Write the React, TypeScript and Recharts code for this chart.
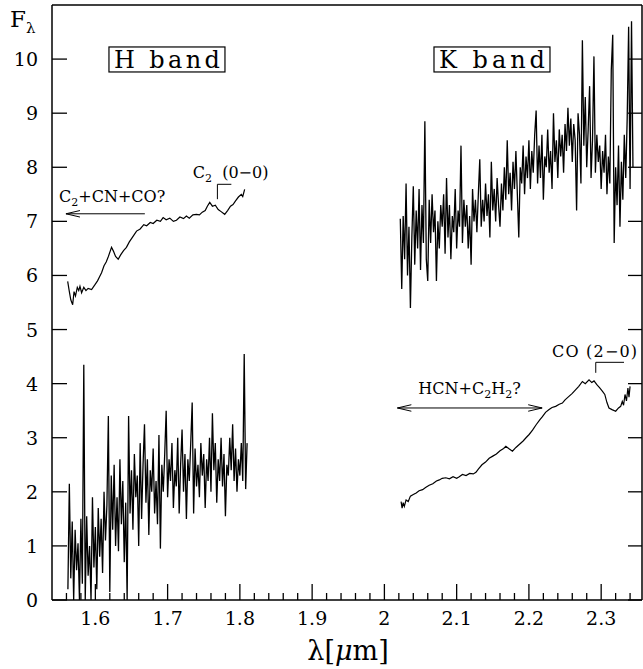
import React from 'react';
import { LineChart, Line, XAxis, YAxis, ReferenceLine, ReferenceDot } from 'recharts';

const FONT = '"DejaVu Serif", "Liberation Serif", serif';

// ---- axes ----
const X_DOMAIN: [number, number] = [1.54, 2.3565];
const Y_DOMAIN: [number, number] = [0, 11];
const X_ALL_TICKS = [
  1.56, 1.58, 1.6, 1.62, 1.64, 1.66, 1.68, 1.7, 1.72, 1.74, 1.76, 1.78, 1.8, 1.82, 1.84, 1.86, 1.88, 1.9, 1.92, 1.94,
  1.96, 1.98, 2.0, 2.02, 2.04, 2.06, 2.08, 2.1, 2.12, 2.14, 2.16, 2.18, 2.2, 2.22, 2.24, 2.26, 2.28, 2.3, 2.32, 2.34,
];
const X_MAJOR_TICKS = [1.6, 1.7, 1.8, 1.9, 2.0, 2.1, 2.2, 2.3];
const X_TICK_LABELS = ['1.6', '1.7', '1.8', '1.9', '2', '2.1', '2.2', '2.3'];
const Y_TICKS = [0, 1, 2, 3, 4, 5, 6, 7, 8, 9, 10];
const Y_TICK_LABELS = ['0', '1', '2', '3', '4', '5', '6', '7', '8', '9', '10'];

// ---- H band, lower (noisy) spectrum: sampled every 0.002 micron from 1.562 ----
const H_NOISY_START = 1.562;
const H_NOISY_STEP = 0.002;
const hNoisyFlux = [
  0.2, 2.15, 0.4, 1.45, 0.0, 1.3, 0.55, 1.05, 0.0, 1.5,
  0.3, 4.35, 0.0, 1.55, 0.45, 1.0, 0.0, 1.9, 0.6, 1.35,
  0.2, 1.7, 0.8, 1.5, 0.5, 2.0, 1.1, 1.75, 3.4, 0.15,
  2.3, 1.3, 2.5, 1.0, 1.9, 0.9, 2.6, 1.4, 2.2, 0.7,
  1.8, 0.0, 3.4, 1.6, 2.4, 1.3, 2.7, 1.9, 2.3, 1.0,
  2.9, 1.5, 2.5, 3.25, 1.8, 2.6, 1.2, 2.4, 2.0, 2.8,
  1.6, 2.2, 1.4, 3.05, 0.95, 2.5, 2.0, 2.7, 3.5, 1.9,
  2.6, 2.2, 2.9, 1.7, 2.4, 2.1, 3.0, 1.6, 2.5, 3.15,
  2.0, 2.7, 1.5, 2.6, 2.2, 2.9, 3.65, 1.6, 2.8, 2.1,
  2.5, 1.9, 2.9, 2.3, 2.7, 1.7, 2.6, 2.2, 3.0, 2.0,
  3.45, 2.4, 2.9, 1.8, 2.6, 2.2, 3.0, 2.1, 2.7, 1.55,
  2.5, 2.3, 3.0, 2.4, 3.25, 2.2, 2.8, 2.0, 2.6, 2.3,
  2.9, 2.2, 4.55, 2.05, 2.9,
];

// ---- H band, upper (smooth) spectrum ----
const hSmoothWave = [
  1.5617, 1.564, 1.566, 1.5686, 1.5705, 1.5725, 1.575, 1.577, 1.5787, 1.581, 1.584, 1.587, 1.59, 1.5948, 1.599,
  1.603, 1.606, 1.6086, 1.612, 1.615, 1.618, 1.6224, 1.625, 1.628, 1.6316, 1.635, 1.639, 1.643, 1.647, 1.651,
  1.657, 1.662, 1.667, 1.671, 1.676, 1.68, 1.685, 1.69, 1.6938, 1.698, 1.703, 1.708, 1.7122, 1.717, 1.722,
  1.726, 1.73, 1.735, 1.7399, 1.744, 1.748, 1.752, 1.755, 1.7583, 1.762, 1.766, 1.77, 1.774, 1.779, 1.783,
  1.787, 1.7905, 1.794, 1.798, 1.802, 1.804, 1.8066,
];
const hSmoothFlux = [
  5.89, 5.7, 5.55, 5.46, 5.7, 5.62, 5.78, 5.72, 5.8, 5.68, 5.78, 5.72, 5.76, 5.74, 5.82,
  5.9, 5.98, 6.05, 6.18, 6.25, 6.35, 6.52, 6.45, 6.35, 6.3, 6.38, 6.46, 6.52, 6.62, 6.7,
  6.82, 6.86, 6.94, 6.92, 6.98, 6.96, 7.02, 7.0, 7.07, 7.03, 7.06, 7.0, 7.02, 7.08, 7.05,
  7.1, 7.06, 7.12, 7.13, 7.12, 7.17, 7.2, 7.28, 7.35, 7.28, 7.3, 7.22, 7.18, 7.13, 7.2,
  7.28, 7.31, 7.38, 7.45, 7.5, 7.46, 7.59,
];

// ---- K band, upper (noisy) spectrum: sampled every 0.002 micron from 2.022 ----
const K_NOISY_START = 2.022;
const K_NOISY_STEP = 0.002;
const kNoisyFlux = [
  7.05, 5.75, 7.1, 6.3, 7.7, 6.0, 6.9, 5.4, 6.7, 7.65,
  6.2, 7.2, 6.5, 7.6, 6.1, 7.3, 6.6, 8.85, 6.3, 5.9,
  7.4, 6.6, 7.5, 6.8, 7.2, 5.9, 7.0, 6.5, 7.3, 6.9,
  7.5, 6.4, 7.8, 6.7, 7.3, 6.3, 7.1, 6.8, 7.6, 6.5,
  7.2, 6.9, 8.4, 6.6, 7.4, 6.9, 7.3, 6.5, 7.1, 6.2,
  7.6, 7.0, 7.4, 6.8, 7.5, 8.15, 6.9, 7.4, 7.0, 7.7,
  7.1, 7.5, 6.7, 8.1, 7.2, 7.6, 7.0, 7.8, 7.3, 6.9,
  7.7, 7.2, 8.0, 7.4, 8.5, 7.5, 7.9, 7.2, 8.1, 7.6,
  8.3, 7.5, 6.7, 8.0, 7.7, 8.4, 7.5, 8.2, 7.8, 8.5,
  7.6, 8.3, 7.9, 8.6, 9.05, 7.7, 8.4, 7.8, 8.6, 7.4,
  8.2, 8.0, 8.7, 7.9, 8.3, 7.6, 9.0, 8.1, 8.5, 7.8,
  8.7, 8.2, 8.6, 7.9, 8.8, 8.3, 9.1, 8.4, 8.9, 8.1,
  8.8, 8.5, 7.2, 9.0, 8.6, 7.7, 10.35, 8.4, 9.3, 8.0,
  8.7, 9.5, 7.8, 8.5, 10.05, 7.9, 8.6, 8.1, 8.4, 7.6,
  8.3, 7.9, 8.6, 7.5, 8.2, 7.7, 9.8, 10.45, 6.6, 8.0,
  7.3, 8.4, 6.9, 8.1, 7.4, 8.6, 7.8, 8.9, 10.6, 7.6,
  10.7, 8.0,
];

// ---- K band, lower (smooth) spectrum ----
const kSmoothWave = [
  2.0231, 2.0245, 2.026, 2.0276, 2.03, 2.033, 2.036, 2.04, 2.044, 2.048, 2.0529, 2.057, 2.062, 2.067, 2.072,
  2.076, 2.08, 2.085, 2.09, 2.095, 2.1, 2.1036, 2.108, 2.113, 2.118, 2.123, 2.1267, 2.13, 2.135, 2.14,
  2.145, 2.15, 2.155, 2.16, 2.165, 2.1681, 2.172, 2.1772, 2.182, 2.187, 2.192, 2.196, 2.2003, 2.205, 2.21,
  2.215, 2.2187, 2.223, 2.2279, 2.232, 2.237, 2.242, 2.2463, 2.25, 2.255, 2.26, 2.2648, 2.269, 2.274, 2.278,
  2.2832, 2.287, 2.2901, 2.294, 2.298, 2.3016, 2.305, 2.308, 2.3108, 2.315, 2.3201, 2.324, 2.327, 2.3292, 2.331,
  2.333, 2.335, 2.337, 2.3385, 2.34,
];
const kSmoothFlux = [
  1.82, 1.7, 1.8, 1.73, 1.85, 1.82, 1.92, 1.95, 1.98, 2.02, 2.04, 2.08, 2.12, 2.15, 2.2,
  2.22, 2.25, 2.26, 2.24, 2.28, 2.25, 2.28, 2.32, 2.3, 2.34, 2.33, 2.36, 2.42, 2.5, 2.55,
  2.62, 2.66, 2.7, 2.76, 2.8, 2.84, 2.8, 2.75, 2.82, 2.88, 2.94, 3.0, 3.06, 3.14, 3.24,
  3.33, 3.39, 3.47, 3.52, 3.56, 3.58, 3.62, 3.64, 3.7, 3.76, 3.82, 3.89, 3.95, 4.04, 4.0,
  4.07, 4.02, 4.05, 3.98, 3.92, 3.86, 3.8, 3.65, 3.55, 3.52, 3.49, 3.55, 3.58, 3.67, 3.6,
  3.8, 3.68, 3.92, 3.75, 3.95,
];

const hNoisy = hNoisyFlux.map((y, i) => ({ x: H_NOISY_START + i * H_NOISY_STEP, y }));
const kNoisy = kNoisyFlux.map((y, i) => ({ x: K_NOISY_START + i * K_NOISY_STEP, y }));
const hSmooth = hSmoothWave.map((x, i) => ({ x, y: hSmoothFlux[i] }));
const kSmooth = kSmoothWave.map((x, i) => ({ x, y: kSmoothFlux[i] }));

const majorIndex = (v: number) => X_MAJOR_TICKS.findIndex((m) => Math.abs(m - v) < 1e-6);

function BottomTick(props: any) {
  const { x, y, payload } = props;
  const idx = majorIndex(payload.value);
  const major = idx >= 0;
  return (
    <g>
      <line x1={x} x2={x} y1={y} y2={y - (major ? 16 : 7)} stroke="#000" strokeWidth={1.3} />
      {major && (
        <text x={x} y={y + 25} textAnchor="middle" fontFamily={FONT} fontSize={19} fill="#000">
          {X_TICK_LABELS[idx]}
        </text>
      )}
    </g>
  );
}

function TopTick(props: any) {
  const { x, y, payload } = props;
  const major = majorIndex(payload.value) >= 0;
  return <line x1={x} x2={x} y1={y} y2={y + (major ? 13 : 8)} stroke="#000" strokeWidth={1.3} />;
}

function LeftTick(props: any) {
  const { x, y, payload } = props;
  const idx = Y_TICKS.indexOf(payload.value);
  return (
    <g>
      <line x1={x} x2={x + 15} y1={y} y2={y} stroke="#000" strokeWidth={1.3} />
      <text x={x - 14} y={y + 7} textAnchor="end" fontFamily={FONT} fontSize={19} fill="#000">
        {Y_TICK_LABELS[idx]}
      </text>
    </g>
  );
}

function RightTick(props: any) {
  const { x, y } = props;
  return <line x1={x} x2={x - 14} y1={y} y2={y} stroke="#000" strokeWidth={1.3} />;
}

const boxLabel = (text: string) => (p: any) => (
  <g>
    <rect x={p.cx - 58} y={p.cy - 12.5} width={116} height={25} fill="none" stroke="#000" strokeWidth={1.2} />
    <text x={p.cx} y={p.cy + 8.5} textAnchor="middle" fontFamily={FONT} fontSize={24} fill="#000" textLength={106} lengthAdjust="spacing">
      {text}
    </text>
  </g>
);

const textC2CN = (p: any) => (
  <text x={p.cx} y={p.cy} fontFamily={FONT} fontSize={16} fill="#000">
    C<tspan fontSize={11} dy={4}>2</tspan>
    <tspan dy={-4}>+CN+CO?</tspan>
  </text>
);
const textC200 = (p: any) => (
  <text x={p.cx} y={p.cy} fontFamily={FONT} fontSize={16} fill="#000">
    C<tspan fontSize={11} dy={4}>2</tspan>
    <tspan dy={-4}>{'\u00a0\u00a0(0\u22120)'}</tspan>
  </text>
);
const textHCN = (p: any) => (
  <text x={p.cx} y={p.cy} fontFamily={FONT} fontSize={16} fill="#000">
    HCN+C<tspan fontSize={11} dy={4}>2</tspan>
    <tspan dy={-4}>H</tspan>
    <tspan fontSize={11} dy={4}>2</tspan>
    <tspan dy={-4}>?</tspan>
  </text>
);
const textCO = (p: any) => (
  <text x={p.cx} y={p.cy} fontFamily={FONT} fontSize={16} fill="#000" textLength={85} lengthAdjust="spacing">
    {'CO (2\u22120)'}
  </text>
);

const seg = (x1: number, y1: number, x2: number, y2: number) => [
  { x: x1, y: y1 },
  { x: x2, y: y2 },
];

const ann = { xAxisId: 'b', yAxisId: 'l', stroke: '#000', strokeWidth: 1, ifOverflow: 'visible' as const };

export default function App() {
  return (
    <div style={{ position: 'absolute', left: 0, top: 0, width: 643, height: 669, background: '#fff' }}>
      <LineChart width={643} height={669} margin={{ top: 0, right: 0, left: 0, bottom: 0 }}>
        <XAxis
          xAxisId="b"
          dataKey="x"
          type="number"
          domain={X_DOMAIN}
          allowDataOverflow
          ticks={X_ALL_TICKS}
          interval={0}
          height={69}
          tickSize={0}
          tickMargin={0}
          tickLine={false}
          tick={<BottomTick />}
          axisLine={{ stroke: '#000', strokeWidth: 1.5 }}
          label={{
            content: (p: any) => {
              const vb = p.viewBox;
              return (
                <text x={vb.x + vb.width / 2 + 1} y={vb.y + 60} textAnchor="middle" fontFamily={FONT} fontSize={27} fill="#000">
                  λ[<tspan fontStyle="italic">μ</tspan>m]
                </text>
              );
            },
          }}
        />
        <XAxis
          xAxisId="t"
          orientation="top"
          type="number"
          domain={X_DOMAIN}
          allowDataOverflow
          ticks={X_ALL_TICKS}
          interval={0}
          height={5}
          tickSize={0}
          tickMargin={0}
          tickLine={false}
          tick={<TopTick />}
          axisLine={{ stroke: '#000', strokeWidth: 1.5 }}
        />
        <YAxis
          yAxisId="l"
          type="number"
          domain={Y_DOMAIN}
          allowDataOverflow
          ticks={Y_TICKS}
          interval={0}
          width={52}
          tickSize={0}
          tickMargin={0}
          tickLine={false}
          tick={<LeftTick />}
          axisLine={{ stroke: '#000', strokeWidth: 1.5 }}
          label={{
            content: () => (
              <text x={10} y={27} fontFamily={FONT} fontSize={23} fill="#000">
                F<tspan fontSize={15} dy={6}>λ</tspan>
              </text>
            ),
          }}
        />
        <YAxis
          yAxisId="r"
          orientation="right"
          type="number"
          domain={Y_DOMAIN}
          allowDataOverflow
          ticks={Y_TICKS}
          interval={0}
          width={1}
          tickSize={0}
          tickMargin={0}
          tickLine={false}
          tick={<RightTick />}
          axisLine={{ stroke: '#000', strokeWidth: 1.5 }}
        />

        <Line xAxisId="b" yAxisId="l" data={hNoisy} dataKey="y" stroke="#000" strokeWidth={1.3} dot={false} isAnimationActive={false} />
        <Line xAxisId="b" yAxisId="l" data={hSmooth} dataKey="y" stroke="#000" strokeWidth={1.2} dot={false} isAnimationActive={false} />
        <Line xAxisId="b" yAxisId="l" data={kNoisy} dataKey="y" stroke="#000" strokeWidth={1.3} dot={false} isAnimationActive={false} />
        <Line xAxisId="b" yAxisId="l" data={kSmooth} dataKey="y" stroke="#000" strokeWidth={1.2} dot={false} isAnimationActive={false} />

        {/* C2+CN+CO? arrow */}
        <ReferenceLine {...ann} segment={seg(1.5593, 7.14, 1.6685, 7.14)} />
        <ReferenceLine {...ann} segment={seg(1.5593, 7.14, 1.5787, 7.2)} />
        <ReferenceLine {...ann} segment={seg(1.5593, 7.14, 1.5787, 7.08)} />
        {/* C2 (0-0) bracket */}
        <ReferenceLine {...ann} segment={seg(1.7689, 7.41, 1.7689, 7.685)} />
        <ReferenceLine {...ann} segment={seg(1.7689, 7.685, 1.7882, 7.685)} />
        {/* HCN+C2H2? double arrow */}
        <ReferenceLine {...ann} segment={seg(2.018, 3.55, 2.2183, 3.55)} />
        <ReferenceLine {...ann} segment={seg(2.018, 3.55, 2.0373, 3.61)} />
        <ReferenceLine {...ann} segment={seg(2.018, 3.55, 2.0373, 3.49)} />
        <ReferenceLine {...ann} segment={seg(2.2183, 3.55, 2.199, 3.61)} />
        <ReferenceLine {...ann} segment={seg(2.2183, 3.55, 2.199, 3.49)} />
        {/* CO (2-0) bracket */}
        <ReferenceLine {...ann} segment={seg(2.2925, 4.2, 2.2925, 4.394)} />
        <ReferenceLine {...ann} segment={seg(2.2925, 4.394, 2.3316, 4.394)} />

        <ReferenceDot xAxisId="b" yAxisId="l" x={1.6991} y={9.993} r={0} ifOverflow="visible" shape={boxLabel('H band')} />
        <ReferenceDot xAxisId="b" yAxisId="l" x={2.1489} y={9.993} r={0} ifOverflow="visible" shape={boxLabel('K band')} />
        <ReferenceDot xAxisId="b" yAxisId="l" x={1.5497} y={7.35} r={0} ifOverflow="visible" shape={textC2CN} />
        <ReferenceDot xAxisId="b" yAxisId="l" x={1.7348} y={7.81} r={0} ifOverflow="visible" shape={textC200} />
        <ReferenceDot xAxisId="b" yAxisId="l" x={2.047} y={3.8} r={0} ifOverflow="visible" shape={textHCN} />
        <ReferenceDot xAxisId="b" yAxisId="l" x={2.2321} y={4.5} r={0} ifOverflow="visible" shape={textCO} />
      </LineChart>
    </div>
  );
}
